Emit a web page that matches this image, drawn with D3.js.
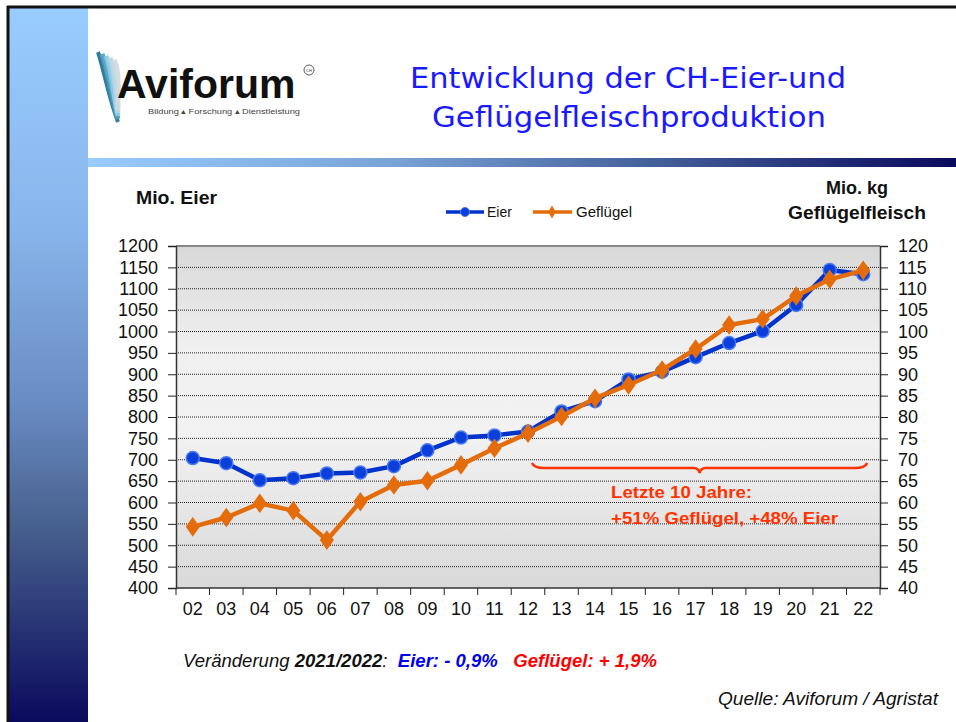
<!DOCTYPE html>
<html><head><meta charset="utf-8">
<script src="https://cdn.jsdelivr.net/npm/d3@7"></script>
<style>html,body{margin:0;padding:0;background:#fff;}svg{display:block;}</style>
</head><body>
<script>
const years = ["02","03","04","05","06","07","08","09","10","11","12","13","14","15","16","17","18","19","20","21","22"];
const eier = [704,692,652,657,668,670,685,722,752,757,766,813,837,888,906,940,973,1001,1062,1144,1134];
const gefluegel = [54.3,56.5,59.8,58.1,51.2,60.2,64.1,65.1,68.8,72.7,76.2,80.1,84.4,87.5,91.0,95.9,101.5,102.9,108.3,112.2,114.3];
const leftTicks = [400,450,500,550,600,650,700,750,800,850,900,950,1000,1050,1100,1150,1200];
const rightTicks = [40,45,50,55,60,65,70,75,80,85,90,95,100,105,110,115,120];
const seriesNames = ["Eier","Geflügel"];
const titleLines = ["Entwicklung der CH-Eier-und","Geflügelfleischproduktion"];

const W=956,H=722;
const svg=d3.select("body").append("svg").attr("width",W).attr("height",H);
const defs=svg.append("defs");

const lg=defs.append("linearGradient").attr("id","strip").attr("x1",0).attr("y1",0).attr("x2",0).attr("y2",1);
[[0,"#99ccff"],[0.3,"#88b6ec"],[0.55,"#6a8cc4"],[0.72,"#48628f"],[1,"#0a0a5c"]].forEach(s=>lg.append("stop").attr("offset",s[0]).attr("stop-color",s[1]));
const hg=defs.append("linearGradient").attr("id","band").attr("x1",0).attr("y1",0).attr("x2",1).attr("y2",0);
[[0,"#99ccff"],[0.35,"#7aa3d6"],[0.65,"#44609a"],[1,"#0a0a5c"]].forEach(s=>hg.append("stop").attr("offset",s[0]).attr("stop-color",s[1]));
const pg=defs.append("linearGradient").attr("id","plotbg").attr("x1",0).attr("y1",0).attr("x2",0).attr("y2",1);
[[0,"#d8d8d8"],[0.3,"#f0f0f0"],[0.55,"#f2f2f2"],[1,"#d9d9d9"]].forEach(s=>pg.append("stop").attr("offset",s[0]).attr("stop-color",s[1]));

svg.append("rect").attr("x",9).attr("y",8).attr("width",79).attr("height",H-8).attr("fill","url(#strip)");
svg.append("rect").attr("x",88).attr("y",158).attr("width",W-88).attr("height",9).attr("fill","url(#band)");
svg.append("line").attr("x1",7).attr("x2",W).attr("y1",7).attr("y2",7).attr("stroke","#111").attr("stroke-width",3);
svg.append("line").attr("x1",8).attr("x2",8).attr("y1",6).attr("y2",H).attr("stroke","#111").attr("stroke-width",3);

// logo
const logo=svg.append("g");
[["#1a6e8e",0],["#4a9cc0",4],["#8ccbe6",8],["#b9d5e3",12],["#cfd8de",16]].forEach((c,i)=>{
  logo.append("path").attr("d",`M${98+c[1]},${52+i*2} C${104+c[1]},${70} ${108+c[1]*0.6},${95} ${118},${122-i*3}`)
   .attr("fill","none").attr("stroke",c[0]).attr("stroke-width",i==0?4:5).attr("opacity",0.9);
});
logo.append("text").attr("x",117).attr("y",98).attr("font-family","Liberation Sans, Arial, sans-serif").attr("font-weight","bold")
  .attr("font-size",41).attr("fill","#111").text("Aviforum");
logo.append("circle").attr("cx",309).attr("cy",70).attr("r",5).attr("fill","none").attr("stroke","#333").attr("stroke-width",0.8);
logo.append("text").attr("x",309).attr("y",71.5).attr("text-anchor","middle").attr("font-size",4).attr("font-family","Liberation Sans, Arial").attr("fill","#333").text("CH");
logo.append("text").attr("x",148).attr("y",114).attr("font-family","Liberation Sans, Arial").attr("font-size",8)
  .attr("fill","#444").attr("textLength",152).attr("lengthAdjust","spacingAndGlyphs").text("Bildung ▴ Forschung ▴ Dienstleistung");

// title
svg.append("text").attr("x",628).attr("y",88).attr("text-anchor","middle").attr("font-family","DejaVu Sans, sans-serif")
  .attr("font-size",29).attr("fill","#1a1aff").attr("textLength",436).attr("lengthAdjust","spacingAndGlyphs").text(titleLines[0]);
svg.append("text").attr("x",629).attr("y",127).attr("text-anchor","middle").attr("font-family","DejaVu Sans, sans-serif")
  .attr("font-size",29).attr("fill","#1a1aff").attr("textLength",394).attr("lengthAdjust","spacingAndGlyphs").text(titleLines[1]);

// chart
const L=176,R=880,T=246,B=588;
const x=d3.scaleBand().domain(years).range([L,R]);
const yL=d3.scaleLinear().domain([400,1200]).range([B,T]);
const yR=d3.scaleLinear().domain([40,120]).range([B,T]);
const font="Liberation Sans, Arial, sans-serif";

svg.append("rect").attr("x",L).attr("y",T).attr("width",R-L).attr("height",B-T).attr("fill","url(#plotbg)");
svg.append("g").selectAll("line").data(leftTicks.filter(v=>v>400&&v<1200)).join("line")
  .attr("x1",L).attr("x2",R).attr("y1",d=>yL(d)).attr("y2",d=>yL(d))
  .attr("stroke","#222").attr("stroke-width",1).attr("stroke-dasharray","1,1");
svg.append("line").attr("x1",L).attr("x2",R).attr("y1",T).attr("y2",T).attr("stroke","#888").attr("stroke-width",2);

const axL=svg.append("g").attr("transform",`translate(${L},0)`).call(d3.axisLeft(yL).tickValues(leftTicks).tickFormat(d3.format("d")).tickSize(8).tickPadding(10));
const axR=svg.append("g").attr("transform",`translate(${R},0)`).call(d3.axisRight(yR).tickValues(rightTicks).tickFormat(d3.format("d")).tickSize(8).tickPadding(10));
const axB=svg.append("g").attr("transform",`translate(0,${B})`).call(d3.axisBottom(x).tickSize(0).tickPadding(14));
[axL,axR,axB].forEach(a=>{a.selectAll("text").attr("font-family",font).attr("font-size",18).attr("fill","#111");
  a.select(".domain").attr("stroke","#333").attr("stroke-width",1.5);a.selectAll(".tick line").attr("stroke","#222");});
axB.select(".domain").attr("d",`M${L},0H${R}`);
svg.append("g").selectAll("line").data(years.slice(1)).join("line")
  .attr("x1",d=>x(d)).attr("x2",d=>x(d)).attr("y1",B).attr("y2",B+7).attr("stroke","#222");
svg.append("line").attr("x1",L).attr("x2",L).attr("y1",B).attr("y2",B+7).attr("stroke","#222");
svg.append("line").attr("x1",R).attr("x2",R).attr("y1",B).attr("y2",B+7).attr("stroke","#222");

const cx=d=>x(d)+x.bandwidth()/2;
const lineE=d3.line().x((d,i)=>cx(years[i])).y(d=>yL(d));
svg.append("path").datum(eier).attr("d",lineE).attr("fill","none").attr("stroke","#0033cc").attr("stroke-width",4.5).attr("stroke-linejoin","round");
svg.append("g").selectAll("circle").data(eier).join("circle").attr("cx",(d,i)=>cx(years[i])).attr("cy",d=>yL(d))
  .attr("r",6.5).attr("fill","#0a3fdc").attr("stroke","#4a7af0").attr("stroke-width",1.5);
const lineG=d3.line().x((d,i)=>cx(years[i])).y(d=>yR(d));
svg.append("path").datum(gefluegel).attr("d",lineG).attr("fill","none").attr("stroke","#e46c0a").attr("stroke-width",4.5).attr("stroke-linejoin","round");
svg.append("g").selectAll("path").data(gefluegel).join("path")
  .attr("d",d3.symbol().type(d3.symbolDiamond).size(110))
  .attr("transform",(d,i)=>`translate(${cx(years[i])},${yR(d)}) scale(1.25,1)`).attr("fill","#e46c0a");

// axis titles
svg.append("text").attr("x",136).attr("y",204).attr("font-family",font).attr("font-weight","bold").attr("font-size",18).attr("textLength",81).attr("lengthAdjust","spacingAndGlyphs").attr("fill","#111").text("Mio. Eier");
svg.append("text").attr("x",857).attr("y",194).attr("text-anchor","middle").attr("font-family",font).attr("font-weight","bold").attr("font-size",18).attr("fill","#111").text("Mio. kg");
svg.append("text").attr("x",857).attr("y",219).attr("text-anchor","middle").attr("font-family",font).attr("font-weight","bold").attr("font-size",18).attr("textLength",138).attr("lengthAdjust","spacingAndGlyphs").attr("fill","#111").text("Geflügelfleisch");

// legend
const lgd=svg.append("g");
lgd.append("line").attr("x1",446).attr("x2",484).attr("y1",212).attr("y2",212).attr("stroke","#0033cc").attr("stroke-width",3.5);
lgd.append("circle").attr("cx",465).attr("cy",212).attr("r",4.5).attr("fill","#0a3fdc").attr("stroke","#4a7af0");
lgd.append("text").attr("x",487).attr("y",217).attr("font-family",font).attr("font-size",14).attr("fill","#111").text(seriesNames[0]);
lgd.append("line").attr("x1",533).attr("x2",572).attr("y1",212).attr("y2",212).attr("stroke","#e46c0a").attr("stroke-width",3.5);
lgd.append("path").attr("d",d3.symbol().type(d3.symbolDiamond).size(50)).attr("transform","translate(552,212)").attr("fill","#e46c0a");
lgd.append("text").attr("x",576).attr("y",217).attr("font-family",font).attr("font-size",14).attr("textLength",56).attr("lengthAdjust","spacingAndGlyphs").attr("fill","#111").text(seriesNames[1]);

// brace annotation
const bx1=cx("12")+4,bx2=cx("22")+4,by=463,bm=(bx1+bx2)/2;
svg.append("path").attr("d",`M${bx1},${by} Q${bx1+2},${by+5} ${bx1+12},${by+5} L${bm-6},${by+5} Q${bm-1},${by+5} ${bm},${by+10} Q${bm+1},${by+5} ${bm+6},${by+5} L${bx2-12},${by+5} Q${bx2-2},${by+5} ${bx2},${by}`)
  .attr("fill","none").attr("stroke","#ff3300").attr("stroke-width",2.5);
svg.append("text").attr("x",611).attr("y",498).attr("font-family",font).attr("font-weight","bold").attr("font-size",17).attr("textLength",141).attr("lengthAdjust","spacingAndGlyphs").attr("fill","#ff3300").text("Letzte 10 Jahre:");
svg.append("text").attr("x",611).attr("y",524).attr("font-family",font).attr("font-weight","bold").attr("font-size",17).attr("textLength",227).attr("lengthAdjust","spacingAndGlyphs").attr("fill","#ff3300").text("+51% Geflügel, +48% Eier");

// bottom notes
const nf="Liberation Sans, Arial, sans-serif";
const note=svg.append("text").attr("x",183).attr("y",667).attr("font-family",nf).attr("font-size",18).attr("font-style","italic").attr("fill","#111")
  .attr("textLength",474).attr("lengthAdjust","spacingAndGlyphs");
note.append("tspan").text("Veränderung ");
note.append("tspan").attr("font-weight","bold").text("2021/2022");
note.append("tspan").text(":\u00a0\u00a0");
note.append("tspan").attr("font-weight","bold").attr("fill","#0000ee").text("Eier: - 0,9%");
note.append("tspan").text("\u00a0\u00a0\u00a0");
note.append("tspan").attr("font-weight","bold").attr("fill","#ff0000").text("Geflügel: + 1,9%");
svg.append("text").attr("x",938).attr("y",705).attr("text-anchor","end").attr("font-family",nf).attr("font-size",18).attr("font-style","italic").attr("fill","#111")
  .attr("textLength",220).attr("lengthAdjust","spacingAndGlyphs").text("Quelle: Aviforum / Agristat");
</script>
</body></html>
